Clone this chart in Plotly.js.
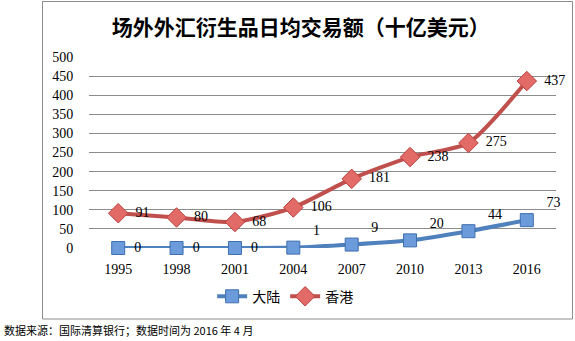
<!DOCTYPE html>
<html>
<head>
<meta charset="utf-8">
<script src="https://cdn.plot.ly/plotly-3.0.1.min.js"></script>
<style>html,body{margin:0;padding:0;background:#fff;}#chart{width:575px;height:341px;}</style>
</head>
<body>
<div id="chart"></div>
<script>
const years = ['1995','1998','2001','2004','2007','2010','2013','2016'];
const mainland = [0, 0, 0, 1, 9, 20, 44, 73];
const hongkong = [91, 80, 68, 106, 181, 238, 275, 437];
const seriesNames = ['大陆', '香港'];
const yTicks = [0, 50, 100, 150, 200, 250, 300, 350, 400, 450, 500];

const labelFont = {family: 'Liberation Serif, DejaVu Serif, serif', size: 14, color: '#000'};
const sp = '\u00a0\u00a0';

const traces = [
  {
    x: years, y: mainland, name: seriesNames[0], type: 'scatter',
    mode: 'lines+markers+text',
    text: mainland.map((v, i) => (i < 3 ? sp : '\u00a0\u00a0\u00a0') + v),
    textposition: mainland.map((v, i) => i < 3 ? 'middle right' : 'top right'),
    textfont: labelFont,
    line: {color: '#4F81BD', width: 4, shape: 'spline', smoothing: 0.6},
    marker: {symbol: 'square', size: 13, color: '#6C9BDB', line: {color: '#3F6FAE', width: 1}},
    cliponaxis: false
  },
  {
    x: years, y: hongkong, name: seriesNames[1], type: 'scatter',
    mode: 'lines+markers+text',
    text: hongkong.map(v => sp + v),
    textposition: 'middle right',
    textfont: labelFont,
    line: {color: '#C0504D', width: 4, shape: 'spline', smoothing: 0.6},
    marker: {symbol: 'diamond', size: 15, color: '#E26B68', line: {color: '#B8423F', width: 1}},
    cliponaxis: false
  }
];

const layout = {
  width: 575, height: 341,
  margin: {l: 89, r: 19, t: 57, b: 93},
  paper_bgcolor: '#fff', plot_bgcolor: '#fff',
  showlegend: true,
  title: {
    text: '场外外汇衍生品日均交易额（十亿美元）',
    font: {family: 'Noto Sans CJK SC, sans-serif', size: 21, color: '#000', weight: 'bold'},
    x: 0.523, xanchor: 'center', y: 0.92, yanchor: 'middle'
  },
  xaxis: {
    type: 'category', range: [-0.5, 7.5],
    showgrid: false, zeroline: false, showline: false,
    ticks: 'outside', ticklen: 8, tickcolor: 'rgba(0,0,0,0)',
    tickfont: labelFont, fixedrange: true
  },
  yaxis: {
    range: [0, 500], tickvals: yTicks, ticktext: yTicks.map(String),
    showgrid: true, gridcolor: '#8C8C8C', gridwidth: 1,
    zeroline: false, showline: false,
    ticks: 'outside', ticklen: 12, tickcolor: 'rgba(0,0,0,0)',
    tickfont: labelFont, fixedrange: true
  },
  legend: {
    orientation: 'h', x: 0.42, xanchor: 'center', y: -0.255, yanchor: 'middle',
    font: {family: 'Noto Sans CJK SC, sans-serif', size: 14, color: '#000'},
    itemwidth: 30
  },
  shapes: [{
    type: 'rect', xref: 'paper', yref: 'paper',
    x0: (42.5 - 89) / 467, x1: (572.5 - 89) / 467,
    y0: (248 - 319) / 191, y1: (248 - 1.5) / 191,
    line: {color: '#8C8C8C', width: 1}, fillcolor: 'rgba(0,0,0,0)', layer: 'below'
  }],
  annotations: [{
    text: '数据来源：国际清算银行；数据时间为 2016 年 4 月',
    xref: 'paper', yref: 'paper',
    x: (2 - 89) / 467, y: (248 - 330) / 191,
    xanchor: 'left', yanchor: 'middle', showarrow: false,
    font: {family: 'Noto Sans CJK SC, sans-serif', size: 11, color: '#000'}
  }]
};

Plotly.newPlot('chart', traces, layout, {staticPlot: true, displayModeBar: false});
</script>
</body>
</html>
